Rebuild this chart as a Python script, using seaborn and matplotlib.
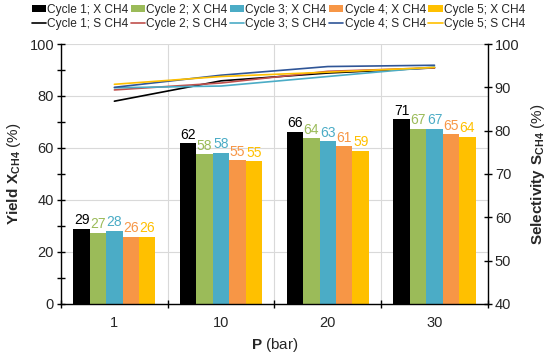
import matplotlib
matplotlib.use('Agg')
import matplotlib.pyplot as plt
import seaborn as sns
import pandas as pd
import numpy as np

# data
pressures = ['1', '10', '20', '30']
cycles = ['Cycle 1', 'Cycle 2', 'Cycle 3', 'Cycle 4', 'Cycle 5']

yield_c1 = [29.0, 61.8, 66.3, 71.0]
yield_c2 = [27.4, 57.7, 63.8, 67.4]
yield_c3 = [28.1, 58.2, 62.7, 67.4]
yield_c4 = [25.9, 55.4, 60.6, 65.3]
yield_c5 = [25.9, 55.0, 59.0, 64.4]

sel_c1 = [86.8, 91.5, 93.3, 94.5]
sel_c2 = [89.4, 91.0, 93.7, 94.5]
sel_c3 = [89.9, 90.3, 92.5, 94.7]
sel_c4 = [90.0, 92.8, 94.8, 95.1]
sel_c5 = [90.7, 92.5, 93.5, 94.6]

bar_colors = ['#000000', '#9BBB59', '#4BACC6', '#F79646', '#FFC000']
line_colors = ['#000000', '#C0504D', '#4BACC6', '#2F5597', '#FFC000']

yields = [yield_c1, yield_c2, yield_c3, yield_c4, yield_c5]
sels = [sel_c1, sel_c2, sel_c3, sel_c4, sel_c5]

rows_x = []
rows_s = []
for c, yv, sv in zip(cycles, yields, sels):
    for i, p in enumerate(pressures):
        rows_x.append({'P': p, 'Cycle': c, 'X': yv[i]})
        rows_s.append({'pos': i, 'Cycle': c, 'S': sv[i]})
df_x = pd.DataFrame(rows_x)
df_s = pd.DataFrame(rows_s)

sns.set_theme(style='white')
plt.rcParams['font.family'] = ['Liberation Sans', 'DejaVu Sans']
plt.rcParams['mathtext.fontset'] = 'custom'
plt.rcParams['mathtext.rm'] = 'Liberation Sans'
plt.rcParams['mathtext.bf'] = 'Liberation Sans:bold'

fig, ax = plt.subplots(figsize=(5.5, 3.55), dpi=100)
fig.subplots_adjust(left=0.111, right=0.887, top=0.876, bottom=0.144)

sns.barplot(data=df_x, x='P', y='X', hue='Cycle', hue_order=cycles,
            palette=bar_colors, saturation=1, width=0.77, gap=0,
            legend=False, linewidth=0, ax=ax)

ax.set_ylim(0, 100)
ax.set_yticks(np.arange(0, 101, 20))
ax.set_yticks(np.arange(0, 101, 10), minor=True)
ax.set_xticks(np.arange(-0.5, 4, 1), minor=True)
ax.grid(axis='y', which='major', color='#D9D9D9', lw=0.8)
ax.grid(axis='x', which='minor', color='#D9D9D9', lw=0.8)
ax.set_axisbelow(True)
ax.tick_params(axis='y', which='both', direction='inout', length=6, width=1,
               labelsize=10.5, color='black', left=True, pad=2)
ax.tick_params(axis='x', which='major', length=0, labelsize=10.5, pad=9)
ax.tick_params(axis='x', which='minor', direction='inout', length=6, width=1,
               color='black', bottom=True)
for s in ['top', 'right']:
    ax.spines[s].set_visible(False)
for s in ['left', 'bottom']:
    ax.spines[s].set_color('black')
    ax.spines[s].set_linewidth(1)

for cont, col in zip(ax.containers, bar_colors):
    ax.bar_label(cont, fmt='%.0f', padding=1, color=col, fontsize=10)

ax.set_ylabel(r'$\mathbf{Yield\ X_{CH4}}$ (%)', fontsize=11, labelpad=5)
ax.set_xlabel(r'$\mathbf{P}$ (bar)', fontsize=11, labelpad=4)

# secondary axis for selectivity
ax2 = ax.twinx()
sns.lineplot(data=df_s, x='pos', y='S', hue='Cycle', hue_order=cycles,
             palette=line_colors, linewidth=1.2, legend=False, ax=ax2)
ax2.set_xlim(-0.5, 3.5)
ax2.set_ylim(40, 100)
ax2.set_yticks(np.arange(40, 101, 10))
ax2.tick_params(axis='y', direction='inout', length=6, width=1,
                labelsize=10.5, color='black', right=True, pad=2)
for s in ['top', 'left', 'bottom']:
    ax2.spines[s].set_visible(False)
ax2.spines['right'].set_color('black')
ax2.spines['right'].set_linewidth(1)
ax2.set_ylabel(r'$\mathbf{Selectivity\ S_{CH4}}$ (%)', fontsize=11, labelpad=7)
ax.set_xticks(range(len(pressures)))
ax.set_xticklabels(pressures)

handles = []
labels = []
for i in range(5):
    handles += [ax.containers[i], ax2.lines[i]]
    labels += [cycles[i] + '; X CH4', cycles[i] + '; S CH4']
fig.legend(handles, labels, ncol=5, loc='upper center',
           bbox_to_anchor=(0.506, 1.0), frameon=False, fontsize=8.6,
           handlelength=1.2, handleheight=0.6, handletextpad=0.1,
           columnspacing=0.2, labelspacing=0.2, borderpad=0.3,
           borderaxespad=0)

fig.savefig('out.png', dpi=100)
